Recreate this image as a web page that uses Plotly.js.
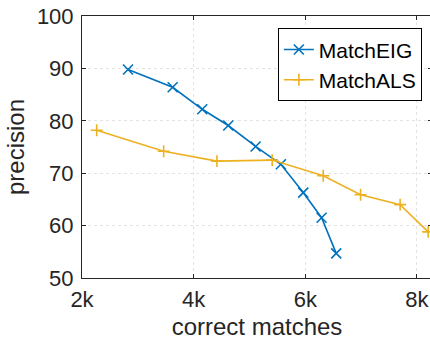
<!DOCTYPE html>
<html>
<head>
<meta charset="utf-8">
<script src="https://cdn.plot.ly/plotly-3.0.1.min.js"></script>
<style>
html, body { margin: 0; padding: 0; overflow: hidden; background: #fff; }
#chart { width: 434px; height: 344px; }
</style>
</head>
<body>
<div id="chart"></div>
<script>
// Data
const eigX = [2824, 3624, 4154, 4620, 5110, 5563, 5963, 6292, 6554];
const eigY = [89.8, 86.4, 82.2, 79.1, 75.1, 71.7, 66.3, 61.5, 54.7];
const alsX = [2263, 3463, 4417, 5407, 6321, 6990, 7699, 8201];
const alsY = [78.2, 74.2, 72.3, 72.5, 69.5, 65.9, 64.0, 58.8];
const xTickVals = [2000, 4000, 6000, 8000];
const xTickText = ['2k', '4k', '6k', '8k'];
const yTickVals = [50, 60, 70, 80, 90, 100];

const FONT = 'Liberation Sans, Arial, Helvetica, sans-serif';
const TXT = '#262626';

const traces = [
  {
    x: eigX, y: eigY, name: 'MatchEIG', type: 'scatter', mode: 'lines+markers',
    line: { color: '#0072BD', width: 1.6 },
    marker: { symbol: 'x-thin', size: 10, color: '#0072BD', line: { color: '#0072BD', width: 1.6 } }
  },
  {
    x: alsX, y: alsY, name: 'MatchALS', type: 'scatter', mode: 'lines+markers',
    line: { color: '#EDB120', width: 1.6 },
    marker: { symbol: 'cross-thin', size: 8.5, color: '#EDB120', line: { color: '#EDB120', width: 1.6 } }
  }
];

const axisCommon = {
  showline: true, linecolor: TXT, linewidth: 1, mirror: 'ticks',
  ticks: 'inside', ticklen: 4, tickcolor: TXT, tickwidth: 1,
  showgrid: true, gridcolor: '#e3e3e3', griddash: 'dot', gridwidth: 1,
  zeroline: false,
  tickfont: { family: FONT, size: 22, color: TXT }
};

const layout = {
  width: 434, height: 344,
  margin: { l: 82, r: 2, t: 16, b: 66 },
  paper_bgcolor: '#fff', plot_bgcolor: '#fff',
  font: { family: FONT, color: TXT },
  showlegend: true,
  legend: {
    x: 0.971, y: 0.953, xanchor: 'right', yanchor: 'top',
    bordercolor: '#000', borderwidth: 1, bgcolor: '#fff',
    font: { family: FONT, size: 21, color: '#000' },
    tracegroupgap: 0
  },
  xaxis: Object.assign({}, axisCommon, {
    range: [2000, 8270], tickvals: xTickVals, ticktext: xTickText,
    ticklabelstandoff: 2,
    title: { text: 'correct matches', font: { family: FONT, size: 24, color: TXT }, standoff: 6 }
  }),
  yaxis: Object.assign({}, axisCommon, {
    range: [50, 100], tickvals: yTickVals,
    ticklabelstandoff: 3,
    title: { text: 'precision', font: { family: FONT, size: 24, color: TXT }, standoff: 5 }
  })
};

Plotly.newPlot('chart', traces, layout, { displayModeBar: false, staticPlot: true });
</script>
</body>
</html>
